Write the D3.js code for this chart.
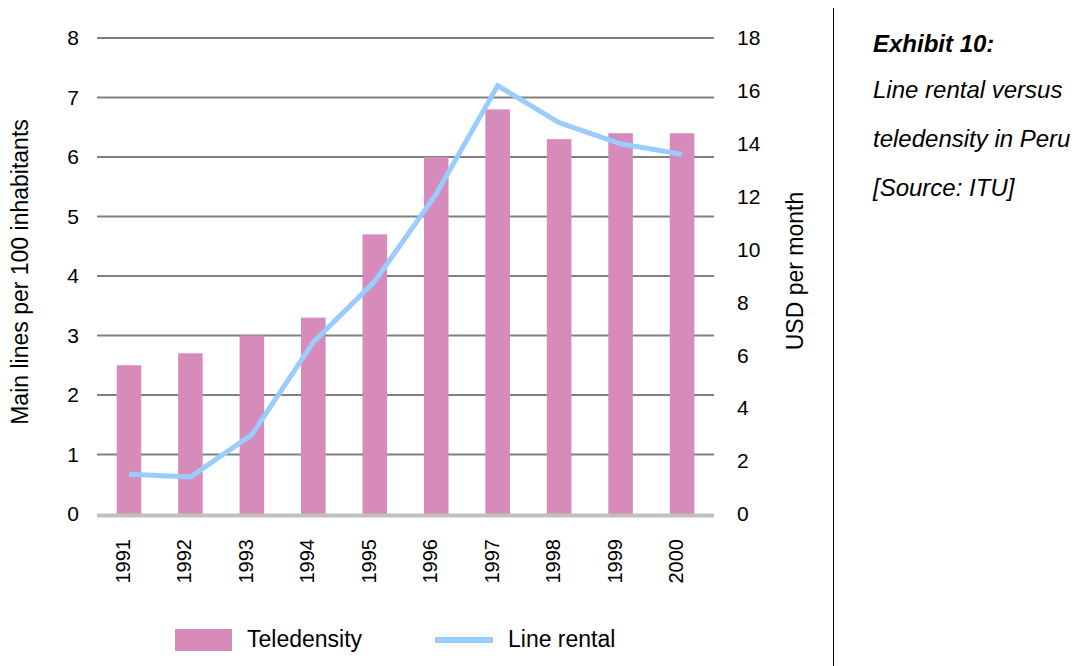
<!DOCTYPE html>
<html>
<head>
<meta charset="utf-8">
<script src="https://cdn.jsdelivr.net/npm/d3@7"></script>
<style>
  html, body { margin: 0; padding: 0; background: #fff; }
  svg { display: block; font-family: "Liberation Sans", Arial, sans-serif; }
</style>
</head>
<body>
<svg id="chart" width="1077" height="666"></svg>
<script>
// Peru: teledensity (bars, left axis) and monthly line rental (line, right axis)
const years = ["1991", "1992", "1993", "1994", "1995", "1996", "1997", "1998", "1999", "2000"];
const teledensity = [2.5, 2.7, 3.0, 3.3, 4.7, 6.0, 6.8, 6.3, 6.4, 6.4];
const lineRental = [1.5, 1.4, 3.0, 6.5, 8.8, 12.1, 16.2, 14.8, 14.0, 13.6];
const leftTicks = [0, 1, 2, 3, 4, 5, 6, 7, 8];
const rightTicks = [0, 2, 4, 6, 8, 10, 12, 14, 16, 18];
const notes = ["Line rental versus", "teledensity in Peru", "[Source: ITU]"];

const FONT = "Liberation Sans, Arial, sans-serif";
const svg = d3.select("#chart");
const plot = { left: 97, right: 714, top: 38, bottom: 514 };

const x = d3.scaleBand().domain(years).range([plot.left, plot.right]).paddingInner(0.6).paddingOuter(0.32);
const yL = d3.scaleLinear().domain([0, 8]).range([plot.bottom, plot.top]);
const yR = d3.scaleLinear().domain([0, 18]).range([plot.bottom, plot.top]);

// horizontal gridlines (behind the bars)
svg.append("g").selectAll("line").data(leftTicks.filter(d => d > 0)).join("line")
  .attr("x1", plot.left).attr("x2", plot.right)
  .attr("y1", d => yL(d)).attr("y2", d => yL(d))
  .attr("stroke", "#808080").attr("stroke-width", 2);

// bars
svg.append("g").selectAll("rect").data(years).join("rect")
  .attr("x", d => x(d))
  .attr("width", x.bandwidth())
  .attr("y", (d, i) => yL(teledensity[i]))
  .attr("height", (d, i) => yL(0) - yL(teledensity[i]))
  .attr("fill", "#d68bba");

// baseline
svg.append("line")
  .attr("x1", plot.left).attr("x2", plot.right)
  .attr("y1", yL(0) + 1.5).attr("y2", yL(0) + 1.5)
  .attr("stroke", "#c0c0c0").attr("stroke-width", 4);

// line rental
const line = d3.line()
  .x((d, i) => x(years[i]) + x.bandwidth() / 2)
  .y(d => yR(d));
svg.append("path").datum(lineRental)
  .attr("d", line)
  .attr("fill", "none")
  .attr("stroke", "#99ccff")
  .attr("stroke-width", 5)
  .attr("stroke-linejoin", "miter");

// left axis labels
const leftAxis = d3.axisLeft(yL).tickValues(leftTicks).tickSize(0).tickPadding(0);
const gl = svg.append("g").attr("transform", `translate(${plot.left - 18},0)`).call(leftAxis);
gl.select(".domain").remove();
gl.selectAll("text").attr("font-size", 21).attr("fill", "#000").attr("font-family", FONT);

// right axis labels
const rightAxis = d3.axisRight(yR).tickValues(rightTicks).tickSize(0).tickPadding(0);
const gr = svg.append("g").attr("transform", `translate(${plot.right + 23},0)`).call(rightAxis);
gr.select(".domain").remove();
gr.selectAll("text").attr("font-size", 21).attr("fill", "#000").attr("font-family", FONT);

// category labels, rotated
const xAxis = d3.axisBottom(x).tickSize(0).tickPadding(0);
const gx = svg.append("g").attr("transform", `translate(0,${plot.bottom + 25})`).call(xAxis);
gx.select(".domain").remove();
gx.selectAll("text")
  .attr("font-size", 20).attr("fill", "#000").attr("font-family", FONT)
  .attr("transform", "rotate(-90)")
  .attr("text-anchor", "end")
  .attr("x", 0).attr("y", 0).attr("dy", "0.05em");

// axis titles
svg.append("text")
  .attr("transform", "translate(28,272) rotate(-90)")
  .attr("text-anchor", "middle").attr("font-size", 23).attr("fill", "#000")
  .text("Main lines per 100 inhabitants");
svg.append("text")
  .attr("transform", "translate(803,271) rotate(-90)")
  .attr("text-anchor", "middle").attr("font-size", 23).attr("fill", "#000")
  .text("USD per month");

// legend
const lg = svg.append("g");
lg.append("rect").attr("x", 175).attr("y", 629).attr("width", 57).attr("height", 22).attr("fill", "#d68bba");
lg.append("text").attr("x", 247).attr("y", 647).attr("font-size", 23).attr("fill", "#000").text("Teledensity");
lg.append("line").attr("x1", 435).attr("x2", 493).attr("y1", 640).attr("y2", 640)
  .attr("stroke", "#99ccff").attr("stroke-width", 6);
lg.append("text").attr("x", 508).attr("y", 647).attr("font-size", 23).attr("fill", "#000").text("Line rental");

// separator
svg.append("line").attr("x1", 833.5).attr("x2", 833.5).attr("y1", 8).attr("y2", 666)
  .attr("stroke", "#000").attr("stroke-width", 1);

// caption
svg.append("text").attr("x", 873).attr("y", 52)
  .attr("font-size", 24).attr("font-weight", "bold").attr("font-style", "italic").attr("fill", "#000")
  .text("Exhibit 10:");
svg.append("g").selectAll("text").data(notes).join("text")
  .attr("x", 873).attr("y", (d, i) => 98 + i * 49)
  .attr("font-size", 24).attr("font-style", "italic").attr("fill", "#000")
  .text(d => d);
</script>
</body>
</html>
